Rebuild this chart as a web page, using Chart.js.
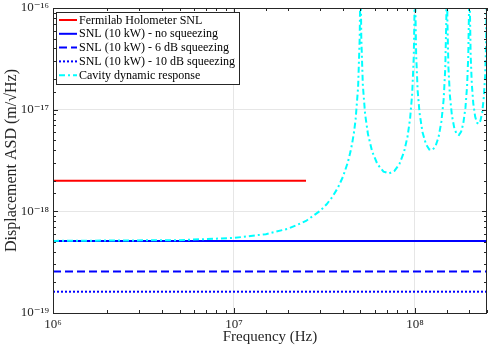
<!DOCTYPE html>
<html>
<head>
<meta charset="utf-8">
<script src="https://cdn.jsdelivr.net/npm/chart.js@4.4.1/dist/chart.umd.min.js"></script>
<style>
  body { margin: 0; background: #fff; }
  canvas { display: block; }
</style>
</head>
<body>
<canvas id="chart" width="489" height="348"></canvas>
<script>
// axis limits
const freqMin = 1e6, freqMax = 2.5e8
const asdMin = 1e-19, asdMax = 1e-16

// flat shot-noise levels (m/sqrt(Hz))
const holometerSnl = 2.0e-18
const holometerEnd = 2.5e7
const snlNoSqz = 5.12e-19
const snl6dB = 2.56e-19
const snl10dB = 1.62e-19

// cavity dynamic response
const cavityFreq = [
    1e6, 5e6, 1e7, 1.5e7, 2e7, 2.5e7, 3e7, 3.25e7, 3.5e7, 3.75e7, 4e7, 4.25e7, 4.4e7, 4.5e7, 4.6e7, 4.7e7, 4.85e7, 4.95e7, 4.98e7,
    5.02e7, 5.05e7, 5.15e7, 5.3e7, 5.5e7, 5.8e7, 6.2e7, 6.7e7, 7.2e7, 7.7e7, 8.2e7, 8.7e7, 9.1e7, 9.4e7, 9.65e7, 9.85e7, 9.95e7,
    1.005e8, 1.015e8, 1.035e8, 1.06e8, 1.1e8, 1.15e8, 1.2e8, 1.25e8, 1.3e8, 1.35e8, 1.4e8, 1.44e8, 1.47e8, 1.49e8, 1.497e8,
    1.503e8, 1.51e8, 1.53e8, 1.56e8, 1.6e8, 1.65e8, 1.7e8, 1.75e8, 1.8e8, 1.85e8, 1.9e8, 1.94e8, 1.97e8, 1.99e8,
    2.01e8, 2.03e8, 2.06e8, 2.1e8, 2.15e8, 2.2e8, 2.25e8, 2.3e8, 2.35e8, 2.4e8, 2.44e8, 2.47e8, 2.49e8
]
const cavityAsd = [
    5.12e-19, 5.205e-19, 5.473e-19, 5.965e-19, 6.765e-19, 8.042e-19, 1.015e-18, 1.173e-18, 1.392e-18, 1.706e-18, 2.189e-18, 3.012e-18, 3.845e-18, 4.685e-18, 5.95e-18, 8.069e-18, 1.658e-17, 5.07e-17, 1.275e-16,
    1.285e-16, 5.17e-17, 1.76e-17, 9.099e-18, 5.726e-18, 3.873e-18, 2.914e-18, 2.46e-18, 2.358e-18, 2.497e-18, 2.915e-18, 3.839e-18, 5.463e-18, 8.214e-18, 1.423e-17, 3.367e-17, 1.019e-16,
    1.029e-16, 3.47e-17, 1.526e-17, 9.263e-18, 6.02e-18, 4.573e-18, 4.059e-18, 4.021e-18, 4.397e-18, 5.368e-18, 7.662e-18, 1.258e-17, 2.524e-17, 7.634e-17, 2.555e-16,
    2.565e-16, 7.736e-17, 2.627e-17, 1.363e-17, 8.757e-18, 6.561e-18, 5.75e-18, 5.63e-18, 6.089e-18, 7.356e-18, 1.04e-17, 1.695e-17, 3.382e-17, 1.02e-16,
    1.03e-16, 3.485e-17, 1.8e-17, 1.149e-17, 8.549e-18, 7.442e-18, 7.238e-18, 7.78e-18, 9.345e-18, 1.314e-17, 2.132e-17, 4.241e-17, 1.276e-16
]

// tick labels at the decades
const xTickLabels = { 6: '10⁶', 7: '10⁷', 8: '10⁸' }
const yTickLabels = { '-16': '10⁻¹⁶', '-17': '10⁻¹⁷', '-18': '10⁻¹⁸', '-19': '10⁻¹⁹' }

const legendNames = [
    'Fermilab Holometer SNL',
    'SNL (10 kW) - no squeezing',
    'SNL (10 kW) - 6 dB squeezing',
    'SNL (10 kW) - 10 dB squeezing',
    'Cavity dynamic response'
]

const serif = '"Liberation Serif", "DejaVu Serif", serif'
const axisColor = '#262626'

function decadeOf(v) {
    const e = Math.log10(v)
    return Math.abs(e - Math.round(e)) < 1e-6 ? Math.round(e) : null
}

function flat(y, x0, x1) {
    return [{ x: x0, y: y }, { x: x1, y: y }]
}

// inward ticks on all four sides, box, and legend
const boxPlugin = {
    id: 'box',
    afterDraw(chart) {
        const ctx = chart.ctx
        const a = chart.chartArea
        const xs = chart.scales.x, ys = chart.scales.y
        ctx.save()
        ctx.strokeStyle = axisColor
        ctx.lineWidth = 1
        ctx.beginPath()
        xs.ticks.forEach(t => {
            if (t.value < freqMin || t.value > freqMax) return
            const px = Math.round(xs.getPixelForValue(t.value)) + 0.5
            const len = decadeOf(t.value) !== null ? 5 : 3
            ctx.moveTo(px, a.bottom); ctx.lineTo(px, a.bottom - len)
            ctx.moveTo(px, a.top); ctx.lineTo(px, a.top + len)
        })
        ys.ticks.forEach(t => {
            if (t.value < asdMin * 0.999 || t.value > asdMax * 1.001) return
            const py = Math.round(ys.getPixelForValue(t.value)) + 0.5
            const len = decadeOf(t.value) !== null ? 5 : 3
            ctx.moveTo(a.left, py); ctx.lineTo(a.left + len, py)
            ctx.moveTo(a.right, py); ctx.lineTo(a.right - len, py)
        })
        ctx.stroke()
        ctx.strokeRect(Math.round(a.left) + 0.5, Math.round(a.top) + 0.5,
            Math.round(a.right - a.left) - 1, Math.round(a.bottom - a.top))

        // legend
        const lx = a.left + 3, ly = a.top + 4, lw = 183, lh = 72, rowH = 13.8
        ctx.fillStyle = '#fff'
        ctx.fillRect(lx, ly, lw, lh)
        ctx.strokeStyle = axisColor
        ctx.strokeRect(lx + 0.5, ly + 0.5, lw, lh)
        ctx.font = '12px ' + serif
        ctx.textBaseline = 'middle'
        chart.data.datasets.forEach((ds, i) => {
            const y = ly + 8 + i * rowH
            ctx.beginPath()
            ctx.strokeStyle = ds.borderColor
            ctx.lineWidth = ds.borderWidth
            ctx.setLineDash(ds.borderDash || [])
            ctx.moveTo(lx + 3, y)
            ctx.lineTo(lx + 21, y)
            ctx.stroke()
            ctx.setLineDash([])
            ctx.fillStyle = '#000'
            ctx.fillText(legendNames[i], lx + 23, y + 0.5)
        })
        ctx.restore()
    }
}

const ctx = document.getElementById('chart').getContext('2d')
const chart = new Chart(ctx, {
    type: 'line',
    data: {
        datasets: [
            {
                label: legendNames[0],
                data: flat(holometerSnl, freqMin, holometerEnd),
                borderColor: '#ff0000',
                borderWidth: 2
            },
            {
                label: legendNames[1],
                data: flat(snlNoSqz, freqMin, freqMax),
                borderColor: '#0000ff',
                borderWidth: 2
            },
            {
                label: legendNames[2],
                data: flat(snl6dB, freqMin, freqMax),
                borderColor: '#0000ff',
                borderWidth: 2,
                borderDash: [8, 4]
            },
            {
                label: legendNames[3],
                data: flat(snl10dB, freqMin, freqMax),
                borderColor: '#0000ff',
                borderWidth: 2,
                borderDash: [2, 2]
            },
            {
                label: legendNames[4],
                data: cavityFreq.map((f, i) => ({ x: f, y: cavityAsd[i] })),
                borderColor: '#00ffff',
                borderWidth: 2,
                borderDash: [6, 3, 2, 3],
                order: -1
            }
        ]
    },
    options: {
        responsive: false,
        animation: false,
        layout: { padding: { top: 8, right: 2, left: 0, bottom: 0 } },
        elements: { point: { radius: 0 }, line: { tension: 0 } },
        plugins: { legend: { display: false }, tooltip: { enabled: false } },
        scales: {
            x: {
                type: 'logarithmic',
                min: freqMin,
                max: freqMax,
                afterFit: s => { s.height = 35; s.paddingLeft = 0; s.paddingRight = 0 },
                border: { display: false },
                grid: {
                    drawTicks: false,
                    color: c => decadeOf(c.tick.value) !== null ? '#e6e6e6' : 'rgba(0,0,0,0)'
                },
                ticks: {
                    autoSkip: false,
                    maxRotation: 0,
                    padding: 4,
                    color: axisColor,
                    font: { family: serif, size: 13 },
                    callback: v => xTickLabels[decadeOf(v)] || ''
                },
                title: {
                    display: true,
                    text: 'Frequency (Hz)',
                    color: axisColor,
                    font: { family: serif, size: 15 },
                    padding: { top: 0, bottom: 2 }
                }
            },
            y: {
                type: 'logarithmic',
                min: asdMin,
                max: asdMax,
                afterFit: s => { s.width = 53; s.paddingTop = 0; s.paddingBottom = 0 },
                border: { display: false },
                grid: {
                    drawTicks: false,
                    color: c => decadeOf(c.tick.value) !== null ? '#e6e6e6' : 'rgba(0,0,0,0)'
                },
                ticks: {
                    autoSkip: false,
                    padding: 4,
                    color: axisColor,
                    font: { family: serif, size: 13 },
                    callback: v => yTickLabels[decadeOf(v)] || ''
                },
                title: {
                    display: true,
                    text: 'Displacement ASD (m/√Hz)',
                    color: axisColor,
                    font: { family: serif, size: 16 },
                    padding: { top: 2, bottom: 0 }
                }
            }
        }
    },
    plugins: [boxPlugin]
})
</script>
</body>
</html>
